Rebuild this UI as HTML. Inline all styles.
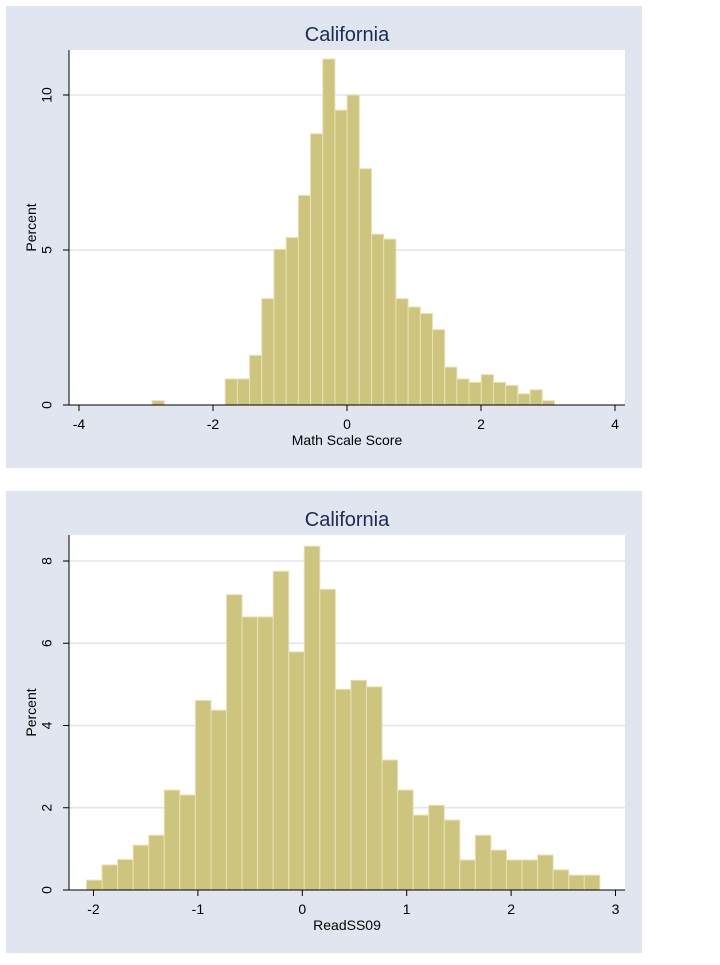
<!DOCTYPE html>
<html><head><meta charset="utf-8">
<style>
body{margin:0;background:#fff;width:720px;height:960px;overflow:hidden}
svg text{font-family:"Liberation Sans",Arial,sans-serif}
</style></head>
<body>
<svg id="s" width="720" height="960" xmlns="http://www.w3.org/2000/svg"></svg>
<script>
// Top chart: Math Scale Score
const mathStart = -2.91;
const mathBinWidth = 0.182;
const mathPercents = [0.14,0,0,0,0,0,0.84,0.84,1.6,3.43,5.02,5.4,6.76,8.75,11.16,9.51,10.0,7.62,5.51,5.35,3.43,3.16,2.95,2.43,1.22,0.84,0.73,0.98,0.73,0.63,0.36,0.49,0.14];
const mathXTicks = [-4,-2,0,2,4];
const mathYTicks = [0,5,10];
// Bottom chart: ReadSS09
const readStart = -2.067;
const readBinWidth = 0.149;
const readPercents = [0.24,0.61,0.74,1.09,1.33,2.43,2.31,4.61,4.37,7.18,6.64,6.64,7.75,5.79,8.36,7.31,4.88,5.10,4.94,3.16,2.43,1.82,2.06,1.70,0.73,1.33,0.97,0.73,0.73,0.85,0.49,0.36,0.36];
const readXTicks = [-2,-1,0,1,2,3];
const readYTicks = [0,2,4,6,8];

const NS="http://www.w3.org/2000/svg";
const svg=document.getElementById('s');
function mk(tag,attrs,parent,text){
  const e=document.createElementNS(NS,tag);
  for(const k in attrs)e.setAttribute(k,attrs[k]);
  if(text!==undefined)e.textContent=text;
  (parent||svg).appendChild(e);return e;
}
function chart(cfg){
  const g=mk('g',{});
  
  
  const p=mk('rect',{x:6,y:cfg.top,width:636,height:462,fill:'#e0e5ef'},g);
  
  
  const L=69,R=625,T=cfg.top+44,B=cfg.top+399;
  const pl=mk('rect',{x:L,y:T,width:R-L,height:B-T,fill:'#fff'},g);
  
  
  const sx=v=>cfg.x0px+(v-cfg.x0)*cfg.xpx;
  const sy=v=>B-(v/cfg.ymax)*(B-cfg.ymaxpx);
  cfg.yt.forEach(t=>{
    if(t>0){const gl=mk('line',{x1:L,x2:R,y1:sy(t),y2:sy(t),stroke:'#e4e4ee','stroke-width':1.5},g);
    
    }
  });
  cfg.vals.forEach((v,i)=>{
    if(v<=0)return;
    const a=sx(cfg.start+i*cfg.bw),b=sx(cfg.start+(i+1)*cfg.bw);
    const r=mk('rect',{x:a,y:sy(v),width:b-a,height:B-sy(v),fill:'#cdc47e',stroke:'#e8e2b4','stroke-width':1},g);
    
    
  });
  mk('line',{x1:L,x2:L,y1:T,y2:B,stroke:'#000','stroke-width':1},g);
  mk('line',{x1:L,x2:R,y1:B,y2:B,stroke:'#000','stroke-width':1},g);
  cfg.yt.forEach(t=>{
    mk('line',{x1:L-6,x2:L,y1:sy(t),y2:sy(t),stroke:'#000'},g);
    const tx=mk('text',{x:48,y:sy(t),'font-size':14,'text-anchor':'middle',fill:'#000',transform:`rotate(-90 48 ${sy(t)})`,'dominant-baseline':'middle'},g,String(t));
    
    
  });
  cfg.xt.forEach(t=>{
    mk('line',{x1:sx(t),x2:sx(t),y1:B,y2:B+6,stroke:'#000'},g);
    const tx=mk('text',{x:sx(t),y:B+24,'font-size':14,'text-anchor':'middle',fill:'#000'},g,String(t));
    
    
  });
  const ti=mk('text',{x:347,y:cfg.top+35,'font-size':20,'text-anchor':'middle',fill:'#1c2a55'},g,'California');
  
  
  const xl=mk('text',{x:347,y:B+40,'font-size':14,'text-anchor':'middle',fill:'#000'},g,cfg.xlabel);
  
  
  const cy=(T+B)/2;
  const yl=mk('text',{x:36,y:cy,'font-size':14,'text-anchor':'middle',fill:'#000',transform:`rotate(-90 36 ${cy})`},g,'Percent');
  
  
}
chart({name:'math-histogram',top:6,vals:mathPercents,start:mathStart,bw:mathBinWidth,xt:mathXTicks,yt:mathYTicks,
  x0:-4,x0px:79,xpx:67,ymax:10,ymaxpx:95,xlabel:'Math Scale Score'});
chart({name:'reading-histogram',top:491,vals:readPercents,start:readStart,bw:readBinWidth,xt:readXTicks,yt:readYTicks,
  x0:-2,x0px:93.5,xpx:104.4,ymax:8,ymaxpx:561,xlabel:'ReadSS09'});
</script>
</body></html>
